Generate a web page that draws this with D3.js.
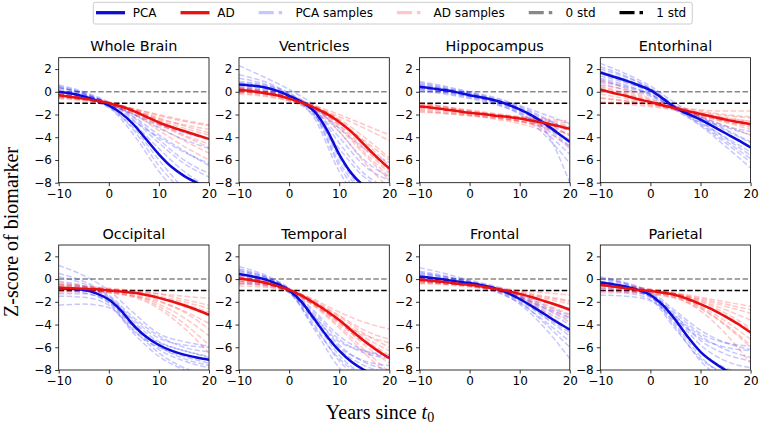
<!DOCTYPE html>
<html><head><meta charset="utf-8">
<script src="https://cdn.jsdelivr.net/npm/d3@7"></script>
<style>body{margin:0;background:#fff} svg{display:block}</style>
</head><body><svg id="c" width="760" height="424"></svg>
<script>
// ---------- data ----------
const regions = ["Whole Brain","Ventricles","Hippocampus","Entorhinal","Occipital","Temporal","Frontal","Parietal"];
const meanYears = [-10,-7.5,-5,-2.5,0,2.5,5,7.5,10,12.5,15,17.5,20];
const sampleYears = [-10,-5,0,5,10,15,20];
const xTicks = [-10,0,10,20];
const yTicks = [2,0,-2,-4,-6,-8];
const stdLevels = [0,-1];
const legendLabels = ["PCA","AD","PCA samples","AD samples","0 std","1 std"];

const wholeBrainPcaMean = [0,-0.15,-0.4,-0.75,-1.2,-1.9,-2.9,-4.2,-5.5,-6.6,-7.4,-8.0,-8.5];
const wholeBrainAdMean  = [-0.3,-0.45,-0.6,-0.8,-1.0,-1.3,-1.7,-2.2,-2.7,-3.1,-3.45,-3.8,-4.15];
const wholeBrainPcaSamples = [
  [0.6,0.0,-0.9,-2.2,-3.8,-5.2,-6.5],[0.4,-0.2,-1.1,-2.8,-5.0,-7.0,-8.5],[0.2,-0.3,-1.0,-2.5,-4.5,-6.3,-7.5],
  [0.3,-0.1,-1.2,-3.4,-6.5,-8.8,-10],[-0.1,-0.5,-1.3,-2.6,-4.0,-5.3,-6.3],[0.5,-0.1,-1.0,-2.0,-3.2,-4.2,-5.0],
  [-0.3,-0.6,-1.4,-3.2,-6.0,-8.5,-10],[-0.2,-0.5,-1.1,-2.0,-2.9,-3.6,-4.2],[0.0,-0.3,-1.0,-2.3,-4.2,-6.0,-7.2],
  [0.4,-0.2,-1.3,-3.8,-7.0,-9.5,-11]];
const wholeBrainAdSamples = [
  [-0.2,-0.5,-0.9,-1.5,-2.1,-2.6,-3.0],[-0.5,-0.7,-1.1,-1.8,-2.8,-3.8,-4.6],[-0.1,-0.5,-1.0,-1.6,-2.3,-3.0,-3.6],
  [-0.4,-0.7,-1.1,-1.9,-3.1,-4.3,-5.4],[-0.3,-0.6,-1.0,-1.6,-2.4,-2.9,-3.3],[-0.6,-0.8,-1.2,-2.0,-3.4,-4.8,-6.0],
  [-0.2,-0.5,-0.9,-1.6,-2.6,-3.5,-4.2],[-0.4,-0.6,-1.0,-1.7,-2.5,-3.2,-3.8],[-0.3,-0.6,-1.1,-1.8,-2.9,-3.9,-4.9],
  [-0.5,-0.7,-1.0,-1.5,-2.0,-2.5,-2.9]];

const ventriclesPcaMean = [0.65,0.55,0.4,0.1,-0.35,-0.9,-1.7,-3.3,-5.5,-7.2,-8.3,-9,-9.5];
const ventriclesAdMean  = [0.15,0.05,-0.1,-0.3,-0.6,-0.95,-1.4,-1.95,-2.65,-3.55,-4.65,-5.75,-6.75];
const ventriclesPcaSamples = [
  [2.3,1.3,0.2,-1.2,-3.5,-6.0,-7.5],[0.8,0.5,-0.3,-1.9,-6.2,-9,-10],[0.4,0.2,-0.4,-1.5,-4.5,-7.2,-8.5],
  [1.2,0.7,-0.2,-2.3,-7.0,-10,-11],[0.3,0.1,-0.5,-1.6,-4.0,-6.5,-7.8],[0.6,0.4,-0.3,-2.0,-6.5,-9.5,-10.5],
  [1.5,0.9,-0.1,-1.4,-3.2,-5.0,-6.2],[0.5,0.3,-0.4,-1.8,-5.5,-8.5,-9.5],[0.2,0.0,-0.6,-2.1,-5.0,-7.5,-8.8],
  [0.9,0.6,-0.2,-1.7,-5.8,-8.8,-10]];
const ventriclesAdSamples = [
  [0.3,0.0,-0.5,-1.2,-2.0,-2.9,-3.8],[0.0,-0.2,-0.7,-1.6,-3.2,-5.5,-7.8],[0.2,-0.1,-0.6,-1.3,-2.4,-4.0,-5.8],
  [-0.1,-0.3,-0.8,-1.7,-3.5,-6.2,-8.5],[0.4,0.1,-0.4,-1.2,-2.5,-4.4,-6.5],[0.1,-0.1,-0.6,-1.5,-2.9,-5.0,-7.2],
  [-0.2,-0.4,-0.8,-1.4,-2.2,-3.2,-4.3],[0.2,-0.1,-0.5,-1.4,-3.0,-5.3,-7.5],[0.0,-0.2,-0.6,-1.5,-2.7,-4.3,-6.0],
  [0.3,0.0,-0.5,-1.3,-2.6,-4.8,-7.0]];

const hippocampusPcaMean = [0.45,0.3,0.15,-0.05,-0.3,-0.5,-0.75,-1.1,-1.55,-2.1,-2.8,-3.6,-4.4];
const hippocampusAdMean  = [-1.3,-1.4,-1.55,-1.7,-1.85,-1.95,-2.1,-2.2,-2.35,-2.55,-2.75,-3.0,-3.25];
const hippocampusPcaSamples = [
  [0.9,0.5,0.0,-0.5,-1.2,-2.0,-2.8],[0.3,0.0,-0.4,-0.9,-1.7,-3.0,-4.8],[0.6,0.3,-0.2,-0.7,-1.5,-2.6,-3.9],
  [0.2,-0.1,-0.5,-1.0,-2.0,-3.8,-6.3],[0.7,0.3,-0.1,-0.6,-1.3,-2.3,-3.5],[0.4,0.1,-0.3,-0.8,-1.6,-3.3,-8.0],
  [0.1,-0.2,-0.6,-1.1,-1.9,-3.2,-5.0],[0.5,0.2,-0.3,-0.8,-1.4,-2.4,-3.4],[0.8,0.4,-0.1,-0.7,-1.6,-2.9,-4.5],
  [0.3,0.0,-0.4,-0.9,-1.8,-3.5,-5.5]];
const hippocampusAdSamples = [
  [-1.0,-1.3,-1.6,-1.9,-2.2,-2.5,-2.8],[-1.5,-1.7,-2.0,-2.3,-2.6,-3.1,-3.8],[-1.2,-1.4,-1.7,-2.0,-2.3,-2.6,-3.0],
  [-1.8,-1.9,-2.1,-2.4,-2.8,-3.5,-4.8],[-1.1,-1.4,-1.8,-2.1,-2.4,-2.7,-3.1],[-1.6,-1.8,-2.0,-2.2,-2.5,-3.0,-3.7],
  [-1.3,-1.5,-1.8,-2.0,-2.2,-2.4,-2.6],[-1.4,-1.6,-1.9,-2.2,-2.6,-3.2,-4.2],[-1.0,-1.3,-1.7,-2.0,-2.3,-2.7,-3.3],
  [-1.7,-1.9,-2.1,-2.3,-2.6,-2.9,-3.4]];

const entorhinalPcaMean = [1.7,1.35,1.0,0.6,0.15,-0.6,-1.4,-1.95,-2.45,-3.05,-3.65,-4.25,-4.9];
const entorhinalAdMean  = [0.2,-0.1,-0.35,-0.65,-0.9,-1.2,-1.45,-1.7,-1.95,-2.2,-2.45,-2.65,-2.85];
const entorhinalPcaSamples = [
  [2.5,1.6,0.5,-1.0,-2.2,-3.3,-4.4],[1.2,0.6,-0.2,-1.5,-2.8,-4.3,-5.9],[2.0,1.3,0.3,-1.2,-2.3,-3.4,-4.5],
  [0.9,0.4,-0.3,-1.6,-3.0,-4.8,-6.7],[1.6,0.9,0.0,-1.3,-2.2,-3.0,-3.5],[2.2,1.4,0.3,-1.4,-2.7,-4.0,-5.3],
  [1.0,0.5,-0.2,-1.5,-2.5,-3.6,-4.8],[1.8,1.1,0.2,-1.3,-2.6,-4.1,-5.6],[0.6,0.2,-0.4,-1.6,-2.4,-3.1,-3.8],
  [1.4,0.8,0.0,-1.4,-2.9,-4.5,-6.2]];
const entorhinalAdSamples = [
  [1.1,0.3,-0.6,-1.3,-1.7,-2.0,-2.2],[-0.5,-0.8,-1.1,-1.5,-2.1,-2.7,-3.3],[0.5,-0.1,-0.8,-1.4,-1.9,-2.3,-2.6],
  [-0.9,-1.0,-1.2,-1.5,-2.2,-3.0,-3.8],[0.2,-0.3,-0.9,-1.4,-1.8,-2.1,-2.3],[-0.2,-0.6,-1.0,-1.5,-2.0,-2.6,-3.1],
  [0.8,0.1,-0.7,-1.3,-1.6,-1.7,-1.7],[-0.6,-0.8,-1.1,-1.6,-2.1,-2.6,-3.0],[0.4,-0.2,-0.9,-1.5,-2.0,-2.4,-2.8],
  [-1.0,-1.1,-1.3,-1.6,-1.9,-2.3,-2.6]];

const occipitalPcaMean = [-0.8,-0.85,-0.95,-1.25,-1.8,-2.8,-4.1,-5.1,-5.8,-6.3,-6.65,-6.9,-7.1];
const occipitalAdMean  = [-0.75,-0.8,-0.85,-0.9,-1.0,-1.1,-1.2,-1.4,-1.65,-1.95,-2.3,-2.7,-3.15];
const occipitalPcaSamples = [
  [1.2,0.3,-1.0,-3.0,-4.8,-5.5,-5.9],[-2.3,-2.2,-2.5,-4.5,-6.5,-7.8,-8.5],[0.2,-0.4,-1.5,-3.8,-5.5,-6.3,-6.8],
  [-1.5,-1.6,-2.3,-4.8,-6.8,-8.0,-9],[-0.5,-0.7,-1.6,-3.6,-5.2,-5.8,-6.0],[-1.0,-1.2,-2.0,-4.3,-6.2,-7.2,-7.8],
  [0.5,-0.2,-1.4,-3.4,-5.0,-6.0,-6.4],[-1.3,-1.3,-2.1,-4.6,-6.0,-6.8,-7.4],[-0.2,-0.6,-1.7,-4.0,-5.9,-7.0,-7.6],
  [-0.8,-1.0,-1.9,-4.2,-5.6,-6.3,-6.9]];
const occipitalAdSamples = [
  [-0.5,-0.7,-0.9,-1.1,-1.3,-1.5,-1.7],[-1.0,-1.0,-1.2,-1.6,-2.6,-4.3,-6.5],[-0.3,-0.6,-0.9,-1.2,-1.7,-2.4,-3.2],
  [-0.9,-1.0,-1.1,-1.4,-2.2,-3.4,-5.0],[-0.6,-0.7,-0.9,-1.1,-1.5,-2.0,-2.6],[-1.2,-1.1,-1.2,-1.5,-2.0,-2.8,-3.9],
  [-0.4,-0.6,-0.8,-1.0,-1.3,-1.8,-2.3],[-0.8,-0.9,-1.1,-1.5,-2.4,-3.9,-5.8],[-0.7,-0.8,-1.0,-1.2,-1.6,-2.2,-2.9],
  [-1.0,-1.0,-1.1,-1.3,-1.9,-2.9,-4.4]];

const temporalPcaMean = [0.45,0.25,0.0,-0.4,-1.0,-2.0,-3.5,-5.0,-6.3,-7.3,-8.0,-8.5,-8.9];
const temporalAdMean  = [0.05,-0.1,-0.3,-0.6,-0.95,-1.45,-2.1,-2.8,-3.6,-4.55,-5.45,-6.25,-6.95];
const temporalPcaSamples = [
  [1.1,0.4,-0.8,-2.8,-5.0,-6.3,-6.9],[0.2,-0.2,-1.1,-4.0,-7.2,-9,-10],[0.7,0.2,-0.9,-3.2,-5.8,-7.3,-8.0],
  [-0.2,-0.4,-1.2,-4.4,-7.8,-9.5,-10],[0.9,0.3,-0.9,-3.0,-5.3,-6.5,-7.0],[0.4,0.0,-1.0,-3.7,-6.7,-8.5,-9.5],
  [0.0,-0.3,-1.1,-3.3,-5.5,-6.3,-6.7],[0.6,0.1,-1.0,-3.6,-6.2,-7.6,-8.3],[-0.4,-0.5,-1.2,-4.2,-7.0,-8.6,-9.5],
  [0.8,0.2,-0.9,-3.4,-6.0,-7.2,-7.6]];
const temporalAdSamples = [
  [0.3,-0.1,-0.9,-1.8,-2.9,-3.8,-4.4],[-0.2,-0.5,-1.0,-2.3,-4.1,-6.2,-8.2],[0.1,-0.3,-0.9,-2.0,-3.3,-4.8,-6.0],
  [-0.4,-0.6,-1.1,-2.4,-4.3,-6.5,-8.5],[0.4,0.0,-0.8,-1.9,-3.2,-4.5,-5.3],[-0.1,-0.4,-1.0,-2.2,-3.8,-5.8,-7.4],
  [0.2,-0.2,-0.9,-2.0,-3.5,-5.1,-6.3],[-0.3,-0.5,-1.0,-2.2,-3.9,-5.6,-7.0],[0.0,-0.3,-0.9,-2.1,-3.6,-5.3,-6.7],
  [-0.6,-0.7,-1.1,-2.3,-3.7,-4.9,-5.6]];

const frontalPcaMean = [0.2,0.1,-0.05,-0.2,-0.35,-0.55,-0.8,-1.2,-1.75,-2.4,-3.1,-3.8,-4.45];
const frontalAdMean  = [-0.05,-0.15,-0.25,-0.4,-0.5,-0.65,-0.85,-1.05,-1.3,-1.6,-1.95,-2.3,-2.7];
const frontalPcaSamples = [
  [1.0,0.5,-0.1,-0.6,-1.3,-2.0,-2.6],[0.0,-0.2,-0.5,-1.0,-2.2,-4.3,-7.0],[0.5,0.2,-0.3,-0.8,-1.6,-2.6,-3.6],
  [-0.2,-0.4,-0.6,-1.1,-2.1,-3.7,-5.5],[0.6,0.2,-0.2,-0.7,-1.4,-2.3,-3.2],[0.3,0.0,-0.4,-0.9,-1.9,-3.4,-5.0],
  [-0.1,-0.3,-0.5,-0.9,-1.6,-2.8,-4.0],[0.7,0.3,-0.2,-0.8,-1.8,-3.3,-4.7],[0.2,-0.1,-0.4,-0.8,-1.5,-2.5,-3.4],
  [0.4,0.1,-0.3,-0.9,-2.0,-3.9,-6.0]];
const frontalAdSamples = [
  [0.3,0.0,-0.4,-0.7,-1.0,-1.2,-1.4],[-0.3,-0.4,-0.6,-1.0,-1.6,-2.6,-3.8],[0.1,-0.2,-0.5,-0.8,-1.2,-1.7,-2.2],
  [-0.4,-0.5,-0.7,-1.0,-1.7,-2.9,-4.5],[0.0,-0.2,-0.5,-0.8,-1.1,-1.5,-1.9],[-0.2,-0.4,-0.6,-0.9,-1.4,-2.2,-3.1],
  [0.2,-0.1,-0.4,-0.8,-1.3,-1.9,-2.6],[-0.1,-0.3,-0.5,-0.9,-1.5,-2.4,-3.4],[0.1,-0.1,-0.4,-0.8,-1.2,-1.6,-2.0],
  [-0.3,-0.4,-0.6,-0.9,-1.3,-2.0,-2.8]];

const parietalPcaMean = [-0.3,-0.45,-0.65,-0.95,-1.4,-2.3,-3.6,-5.1,-6.4,-7.3,-8.0,-8.5,-8.9];
const parietalAdMean  = [-0.5,-0.65,-0.8,-0.95,-1.05,-1.2,-1.4,-1.75,-2.2,-2.7,-3.3,-3.95,-4.7];
const parietalPcaSamples = [
  [0.2,-0.3,-1.1,-2.8,-4.5,-5.6,-6.2],[-0.6,-0.9,-1.6,-4.2,-7.2,-9,-10],[0.0,-0.4,-1.2,-3.2,-5.4,-6.6,-7.2],
  [-1.0,-1.2,-1.8,-4.4,-7.0,-8.3,-9],[-0.2,-0.5,-1.3,-3.0,-4.8,-5.6,-5.9],[-0.5,-0.8,-1.5,-3.8,-6.4,-7.8,-8.5],
  [-1.4,-1.5,-1.9,-3.5,-5.2,-6.0,-6.3],[0.1,-0.4,-1.3,-3.4,-5.8,-7.2,-7.8],[-0.3,-0.7,-1.5,-4.0,-6.8,-8.6,-9.5],
  [-0.8,-1.0,-1.6,-3.3,-5.0,-6.2,-6.9]];
const parietalAdSamples = [
  [-0.2,-0.6,-0.9,-1.2,-1.6,-2.0,-2.4],[-0.8,-1.0,-1.2,-1.6,-2.8,-4.8,-7.4],[-0.4,-0.7,-1.0,-1.3,-1.9,-2.7,-3.6],
  [-1.0,-1.1,-1.3,-1.7,-2.6,-4.1,-6.0],[-0.3,-0.6,-0.9,-1.3,-1.8,-2.4,-3.0],[-0.7,-0.9,-1.1,-1.5,-2.4,-3.7,-5.3],
  [-0.5,-0.8,-1.0,-1.3,-2.0,-3.0,-4.3],[-1.2,-1.2,-1.3,-1.6,-2.2,-3.2,-4.5],[-0.6,-0.8,-1.1,-1.5,-2.5,-4.0,-5.8],
  [-0.4,-0.7,-1.0,-1.3,-1.7,-2.2,-2.7]];

// table built from the arrays above
const panels = [
  [wholeBrainPcaMean, wholeBrainAdMean, wholeBrainPcaSamples, wholeBrainAdSamples],
  [ventriclesPcaMean, ventriclesAdMean, ventriclesPcaSamples, ventriclesAdSamples],
  [hippocampusPcaMean, hippocampusAdMean, hippocampusPcaSamples, hippocampusAdSamples],
  [entorhinalPcaMean, entorhinalAdMean, entorhinalPcaSamples, entorhinalAdSamples],
  [occipitalPcaMean, occipitalAdMean, occipitalPcaSamples, occipitalAdSamples],
  [temporalPcaMean, temporalAdMean, temporalPcaSamples, temporalAdSamples],
  [frontalPcaMean, frontalAdMean, frontalPcaSamples, frontalAdSamples],
  [parietalPcaMean, parietalAdMean, parietalPcaSamples, parietalAdSamples]
].map((a,i)=>({name:regions[i], pcaMean:a[0], adMean:a[1], pcaSamples:a[2], adSamples:a[3]}));

// ---------- drawing ----------
const BLUE = "#0000ff", RED = "#ff0000", BLUE_M = "#0c0cd8", RED_M = "#e81010";
const SANS = "DejaVu Sans, Verdana, sans-serif";
const SERIF = "Liberation Serif, Times New Roman, serif";
const svg = d3.select("#c");
svg.append("rect").attr("width",760).attr("height",424).attr("fill","#fff");

const W = 150.3, H = 125;
const lefts = [58.7,239,419.5,600.3], tops = [57.7,245];
const x = d3.scaleLinear().domain([-10,20]).range([0,W]);
const y = d3.scaleLinear().domain([-8,3]).range([H,0]);
const sampleLine = d3.line().x((d,j)=>x(sampleYears[j])).y(d=>y(d)).curve(d3.curveMonotoneX);
const meanLine = d3.line().x((d,j)=>x(meanYears[j])).y(d=>y(d)).curve(d3.curveMonotoneX);
const defs = svg.append("defs");

panels.forEach((p,i)=>{
  const g = svg.append("g").attr("transform",`translate(${lefts[i%4]},${tops[Math.floor(i/4)]})`);
  defs.append("clipPath").attr("id","clip"+i).append("rect").attr("width",W).attr("height",H);
  const plot = g.append("g").attr("clip-path",`url(#clip${i})`);

  stdLevels.forEach((s,k)=>{
    plot.append("line").attr("x1",x(-10)).attr("x2",x(20)).attr("y1",y(s)).attr("y2",y(s))
      .attr("stroke", k===0 ? "#888888" : "#000000").attr("stroke-width",1.5)
      .attr("stroke-dasharray","5.5,2.4");
  });
  p.pcaSamples.forEach(s=>{
    plot.append("path").attr("d",sampleLine(s)).attr("fill","none").attr("stroke",BLUE)
      .attr("stroke-opacity",0.22).attr("stroke-width",1.5).attr("stroke-dasharray","5.5,2.4");
  });
  p.adSamples.forEach(s=>{
    plot.append("path").attr("d",sampleLine(s)).attr("fill","none").attr("stroke",RED)
      .attr("stroke-opacity",0.22).attr("stroke-width",1.5).attr("stroke-dasharray","5.5,2.4");
  });
  plot.append("path").attr("d",meanLine(p.pcaMean)).attr("fill","none").attr("stroke",BLUE_M).attr("stroke-width",2.5);
  plot.append("path").attr("d",meanLine(p.adMean)).attr("fill","none").attr("stroke",RED_M).attr("stroke-width",2.5);

  // axes
  const xa = g.append("g").attr("transform",`translate(0,${H})`)
    .call(d3.axisBottom(x).tickValues(xTicks).tickSize(3.5).tickPadding(3.2));
  const ya = g.append("g")
    .call(d3.axisLeft(y).tickValues(yTicks).tickSize(3.5).tickPadding(3.2));
  [xa,ya].forEach(a=>{
    a.select(".domain").remove();
    a.selectAll(".tick line").attr("stroke","#000").attr("stroke-width",0.8);
    a.selectAll(".tick text").attr("fill","#000").style("font-family",SANS).style("font-size","12px");
  });
  g.append("rect").attr("width",W).attr("height",H).attr("fill","none").attr("stroke","#000").attr("stroke-width",0.8);

  g.append("text").attr("x",W/2).attr("y",-6.5).attr("text-anchor","middle")
    .style("font-family",SANS).style("font-size","14.4px").attr("fill","#000").text(p.name);
});

// axis labels
svg.append("text").attr("transform","translate(18,232) rotate(-90)").attr("text-anchor","middle")
  .style("font-family",SERIF).style("font-size","20px").attr("fill","#000").text("Z-score of biomarker");
const xl = svg.append("text").attr("x",380).attr("y",419).attr("text-anchor","middle")
  .style("font-family",SERIF).style("font-size","20px").attr("fill","#000");
xl.append("tspan").text("Years since ");
xl.append("tspan").style("font-style","italic").text("t");
xl.append("tspan").attr("dy",3).style("font-size","14px").text("0");

// legend
const legendStyles = [
  {c:BLUE_M,o:1,dash:null,len:29},{c:RED_M,o:1,dash:null,len:29},
  {c:BLUE,o:0.22,dash:"15,5",len:23.5},{c:RED,o:0.22,dash:"15,5",len:23.5},
  {c:"#888888",o:1,dash:"15,5",len:23.5},{c:"#000000",o:1,dash:"15,5",len:23.5}];
const lg = svg.append("g");
const box = lg.append("rect").attr("x",93.3).attr("y",2.3).attr("height",21.7).attr("rx",2)
  .attr("fill","#fff").attr("stroke","#cccccc").attr("stroke-width",1);
let lx = 96;
legendLabels.forEach((lab,i)=>{
  const s = legendStyles[i];
  const ln = lg.append("line").attr("x1",lx).attr("x2",lx+s.len).attr("y1",12.7).attr("y2",12.7)
    .attr("stroke",s.c).attr("stroke-opacity",s.o).attr("stroke-width",3.3);
  if (s.dash) ln.attr("stroke-dasharray",s.dash);
  const t = lg.append("text").attr("x",lx+36.7).attr("y",17).style("font-family",SANS).style("font-size","12px")
    .attr("fill","#000").text(lab);
  const tw = t.node().getComputedTextLength();
  lx = lx + 36.7 + tw + 24;
});
box.attr("width", lx - 24 + 6 - 93.3);
</script></body></html>
